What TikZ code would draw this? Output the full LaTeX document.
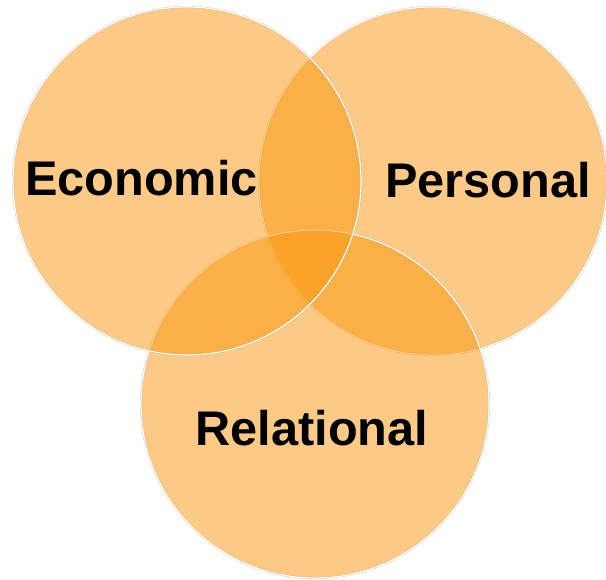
\documentclass[tikz,border=0pt]{standalone}
\usepackage{fontspec}
\setmainfont{Liberation Sans}
\definecolor{setfill}{RGB}{250,150,10}

\tikzset{
    vennset/.style={circle, inner sep=0pt, minimum size=261pt, fill=setfill, fill opacity=0.5,
        draw=white, line width=0.9pt,
        preaction={draw=black!35, draw opacity=0.6, line width=1.5pt}},
    setlabel/.style={anchor=base, inner sep=0pt, font=\bfseries\fontsize{36.5}{40}\selectfont}
}

\begin{document}
\begin{tikzpicture}[x=0.75pt, y=-0.75pt]

    \useasboundingbox (0,0) rectangle (606,579);

    % Circles, lowest first
    \node (personal) [vennset] at (433,181) {};
    \node (relational) [vennset] at (315,404) {};
    \node (economic) [vennset] at (187,181) {};

    % Labels
    \node (economiclbl) [setlabel] at (141.5,195) {Economic};
    \node (personallbl) [setlabel] at (488,197) {Personal};
    \node (relationallbl) [setlabel] at (312,445) {Relational};

\end{tikzpicture}
\end{document}
